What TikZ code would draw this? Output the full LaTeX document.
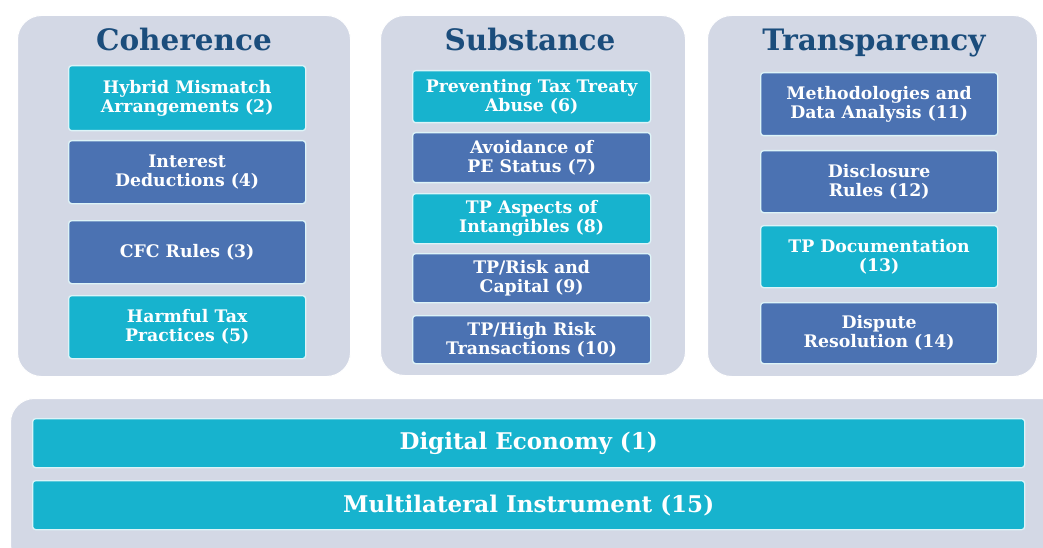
\documentclass[tikz,border=0pt]{standalone}
\usepackage{fontspec}
\setmainfont{DejaVu Serif}
\definecolor{panelbg}{HTML}{D3D8E5}
\definecolor{cyanbox}{HTML}{17B3CE}
\definecolor{bluebox}{HTML}{4B72B2}
\definecolor{titleblue}{HTML}{1B4D7C}
\definecolor{rimline}{HTML}{DDF4F8}
\tikzset{
  panel/.style={draw=white, line width=1pt, fill=panelbg, rounded corners=24pt, anchor=north west, inner sep=0pt},
  paneltitle/.style={text=titleblue, font=\bfseries\fontsize{29.5}{32}\selectfont, inner sep=0pt, anchor=base},
  item/.style={draw=rimline, line width=1.3pt, rounded corners=3pt, anchor=north west, inner sep=1pt,
    text=white, align=center, font=\bfseries\fontsize{17.3}{19}\selectfont},
  lightitem/.style={item, fill=cyanbox},
  darkitem/.style={item, fill=bluebox},
  wideitem/.style={item, fill=cyanbox, minimum width=992pt, minimum height=49pt,
    font=\bfseries\fontsize{23}{26}\selectfont},
}
\begin{document}
\begin{tikzpicture}[x=1pt,y=-1pt]
\useasboundingbox[fill=white] (0,0) rectangle (1043,548);

% three pillar panels
\node[panel, minimum width=333pt, minimum height=361pt] (pcoh) at (17,15) {};
\node[panel, minimum width=305pt, minimum height=360pt] (psub) at (380,15) {};
\node[panel, minimum width=330pt, minimum height=361pt] (ptra) at (707,15) {};

\node[paneltitle] (tcoh) at (184,51) {Coherence};
\node[paneltitle] (tsub) at (530,51) {Substance};
\node[paneltitle] (ttra) at (874,51) {Transparency};

% Coherence items
\node[lightitem, minimum width=237pt, minimum height=65pt] (c2) at (68,65) {Hybrid Mismatch\\Arrangements (2)};
\node[darkitem,  minimum width=237pt, minimum height=63pt] (c4) at (68,140) {Interest\\Deductions (4)};
\node[darkitem,  minimum width=237pt, minimum height=63pt] (c3) at (68,220) {CFC Rules (3)};
\node[lightitem, minimum width=237pt, minimum height=63pt] (c5) at (68,295) {Harmful Tax\\Practices (5)};

% Substance items
\node[lightitem, minimum width=238pt, minimum height=52pt] (s6)  at (412,70)  {Preventing Tax Treaty\\Abuse (6)};
\node[darkitem,  minimum width=238pt, minimum height=50pt] (s7)  at (412,132) {Avoidance of\\PE Status (7)};
\node[lightitem, minimum width=238pt, minimum height=50pt] (s8)  at (412,193) {TP Aspects of\\Intangibles (8)};
\node[darkitem,  minimum width=238pt, minimum height=49pt] (s9)  at (412,253) {TP/Risk and\\Capital (9)};
\node[darkitem,  minimum width=238pt, minimum height=48pt] (s10) at (412,315) {TP/High Risk\\Transactions (10)};

% Transparency items
\node[darkitem,  minimum width=237pt, minimum height=63pt] (t11) at (760,72)  {Methodologies and\\Data Analysis (11)};
\node[darkitem,  minimum width=237pt, minimum height=62pt] (t12) at (760,150) {Disclosure\\Rules (12)};
\node[lightitem, minimum width=237pt, minimum height=62pt] (t13) at (760,225) {TP Documentation\\(13)};
\node[darkitem,  minimum width=237pt, minimum height=61pt] (t14) at (760,302) {Dispute\\Resolution (14)};

% cross-cutting base
\node[panel, minimum width=1060pt, minimum height=170pt] (pbase) at (10,398) {};
\node[wideitem] (b1)  at (32,418) {Digital Economy (1)};
\node[wideitem] (b15) at (32,480) {Multilateral Instrument (15)};
\end{tikzpicture}
\end{document}
